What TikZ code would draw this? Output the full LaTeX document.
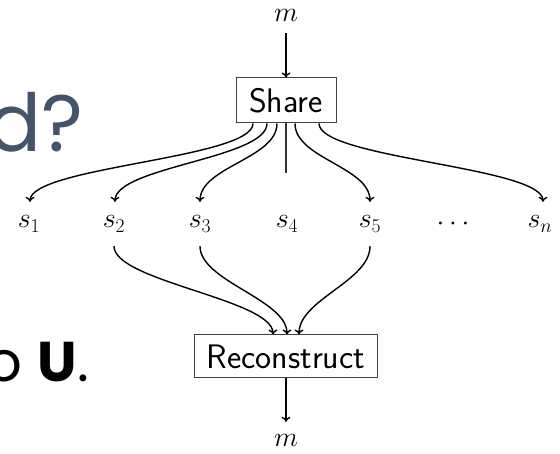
\RequirePackage{fix-cm}
\documentclass[tikz,border=0pt]{standalone}
\usepackage{fontspec}
\newfontfamily\slidefont{Poppins}
\usetikzlibrary{arrows.meta}
\definecolor{slate}{HTML}{44546A}
\tikzset{
  flow/.style={line width=1.4pt, -{To[length=5pt,width=9pt]}},
  swoop/.style={out=-90, in=90, distance=35pt},
  stage/.style={draw=black!75, line width=1pt, fill=white, inner sep=0pt,
    font=\sffamily\fontsize{34}{40}\selectfont},
  share/.style={inner sep=0pt, minimum height=44pt, minimum width=24pt,
    font=\fontsize{28}{34}\selectfont},
  msg/.style={inner sep=0pt, minimum height=36pt, font=\fontsize{28}{34}\selectfont},
}
\begin{document}
\begin{tikzpicture}[x=1pt,y=-1pt]
\useasboundingbox (0,0) rectangle (560,454);
\clip (0,0) rectangle (560,454);

% slide text behind the diagram
\node[anchor=base east, inner sep=0pt, text=slate,
  font=\slidefont\fontsize{80}{90}\selectfont] (title) at (84,152) {d?};
\node[anchor=base east, inner sep=0pt, text=black,
  font=\slidefont\fontsize{56}{64}\selectfont] (line) at (89,382) {o \textbf{U}.};

% stages
\node[stage, minimum width=100pt, minimum height=45pt] (sh) at (286,100.5) {Share};
\node[stage, minimum width=183pt, minimum height=43pt] (rc) at (286,356.5) {Reconstruct};

% message in and out
\node[msg] (min) at (286,15) {$m$};
\node[msg] (mout) at (286,440) {$m$};
\draw[flow] (min.south) -- (sh.north);
\draw[flow] (rc.south) -- (mout.north);

% shares
\node[share] (s1) at (29,224) {$s_1$};
\node[share] (s2) at (114,224) {$s_2$};
\node[share] (s3) at (200,224) {$s_3$};
\node[share] (s4) at (287,224) {$s_4$};
\node[share] (s5) at (370,224) {$s_5$};
\node[share] (dots) at (453,224) {$\cdots$};
\node[share] (sn) at (540,224) {$s_n$};
\coordinate (s4end) at (286,173);

% splitting
\draw[flow] ([xshift=-33pt]sh.south) to[swoop] ([xshift=1pt]s1.north);
\draw[flow] ([xshift=-19pt]sh.south) to[swoop] ([xshift=1pt]s2.north);
\draw[flow] ([xshift=-9pt]sh.south) to[swoop] (s3.north);
\draw[line width=1.4pt, black!80] (sh.south) -- (s4end);
\draw[flow] ([xshift=9pt]sh.south) to[swoop] (s5.north);
\draw[flow] ([xshift=33pt]sh.south) to[swoop] ([xshift=3pt]sn.north);

% recombining
\draw[flow] (s2.south) to[swoop] ([xshift=-13pt]rc.north);
\draw[flow] (s3.south) to[swoop] ([xshift=1pt]rc.north);
\draw[flow] (s5.south) to[swoop] ([xshift=13pt]rc.north);
\end{tikzpicture}
\end{document}
